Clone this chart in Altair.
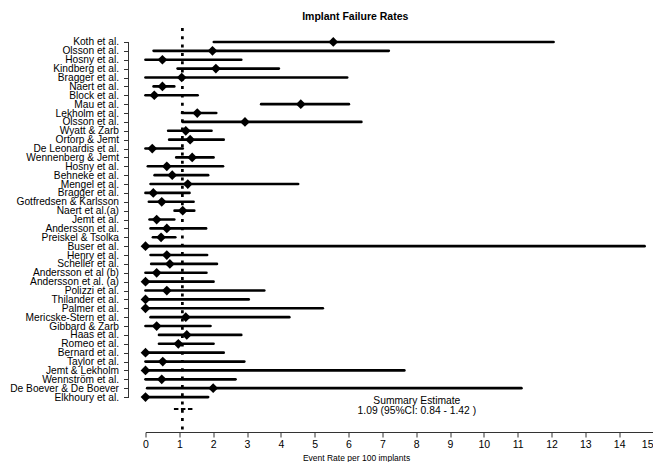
import json
import altair as alt
import pandas as pd

FONT = "Liberation Sans"

studies = ["Koth et al.", "Olsson et al.", "Hosny et al.", "Kindberg et al.", "Bragger et al.",
           "Naert et al.", "Block et al.", "Mau et al.", "Lekholm et al.", "Olsson et al.",
           "Wyatt & Zarb", "Ortorp & Jemt", "De Leonardis et al.", "Wennenberg & Jemt", "Hosny et al.",
           "Behneke et al.", "Mengel et al.", "Bragger et al.", "Gotfredsen & Karlsson", "Naert et al.(a)",
           "Jemt et al.", "Andersson et al.", "Preiskel & Tsolka", "Buser et al.", "Henry et al.",
           "Scheller et al.", "Andersson et al (b)", "Andersson et al. (a)", "Polizzi et al.", "Thilander et al.",
           "Palmer et al.", "Mericske-Stern et al.", "Gibbard & Zarb", "Haas et al.", "Romeo et al.",
           "Bernard et al.", "Taylor et al.", "Jemt & Lekholm", "Wennström et al.", "De Boever & De Boever",
           "Elkhoury et al."]
rate = [5.55, 1.98, 0.50, 2.08, 1.07, 0.50, 0.26, 4.59, 1.53, 2.94,
        1.19, 1.32, 0.20, 1.38, 0.63, 0.79, 1.25, 0.23, 0.48, 1.10,
        0.33, 0.63, 0.46, 0.00, 0.63, 0.72, 0.33, 0.00, 0.63, 0.00,
        0.00, 1.19, 0.33, 1.22, 0.97, 0.00, 0.51, 0.00, 0.48, 2.00,
        0.00]
lower = [2.02, 0.24, 0.00, 0.95, 0.00, 0.24, 0.00, 3.42, 1.08, 1.10,
         0.67, 0.70, 0.00, 0.91, 0.07, 0.27, 0.15, 0.00, 0.10, 0.86,
         0.12, 0.15, 0.22, 0.00, 0.15, 0.17, 0.00, 0.00, 0.00, 0.00,
         0.00, 0.15, 0.00, 0.40, 0.40, 0.00, 0.00, 0.00, 0.00, 0.05,
         0.00]
upper = [12.06, 7.19, 2.83, 3.94, 5.96, 0.85, 1.54, 6.01, 2.09, 6.38,
         1.95, 2.31, 1.10, 2.01, 2.29, 1.85, 4.51, 1.30, 1.42, 1.44,
         0.85, 1.79, 0.88, 14.75, 1.82, 2.11, 1.80, 2.01, 3.51, 3.05,
         5.24, 4.25, 1.92, 2.83, 2.01, 2.31, 2.92, 7.65, 2.66, 11.11,
         1.85]

summary_est = 1.09
summary_lo = 0.84
summary_hi = 1.42
x_ticks = list(range(0, 16))

rows = list(range(1, len(studies) + 1))
df = pd.DataFrame({"row": rows, "study": studies, "rate": rate, "lower": lower, "upper": upper})
summ = pd.DataFrame({"row": [len(studies) + 1.35], "lo": [summary_lo], "hi": [summary_hi], "est": [summary_est]})
stext = pd.DataFrame({
    "row": [len(studies) + 0.83],
    "x": [8.02],
    "text": [f"Summary Estimate\n{summary_est:.2f} (95%CI: {summary_lo:.2f} - {summary_hi:.2f} )"],
})
yax = pd.DataFrame({"a": [rows[0]], "b": [rows[-1]]})

xscale = alt.Scale(domain=[x_ticks[0], x_ticks[-1]], nice=False, zero=False)
yscale = alt.Scale(domain=[-0.577, 44.94], reverse=True, nice=False, zero=False)

names = json.dumps(studies, ensure_ascii=False)

xaxis = alt.Axis(values=x_ticks, format="d", grid=False, labelFont=FONT, labelFontSize=10.5,
                 labelColor="black", tickColor="#333", domainColor="#333", tickSize=5,
                 labelPadding=2, labelFlush=False, labelOverlap=False,
                 labelAlign={"condition": {"test": f"datum.value == {x_ticks[-1]}", "value": "right"},
                             "value": "center"},
                 title="Event Rate per 100 implants", titleFont=FONT, titleFontSize=8.5,
                 titleFontWeight="normal", titleColor="black", titleX=210.5, titleY=28,
                 titleBaseline="alphabetic", titleAlign="center")
yaxis = alt.Axis(values=rows, labelExpr=f"{names}[datum.value - 1]", grid=False, domain=False,
                 offset=17, tickSize=5, tickColor="#333", labelFont=FONT, labelFontSize=10.2,
                 labelColor="black", labelPadding=5, labelOverlap=False, title=None)


def X(field):
    return alt.X(field, type="quantitative", scale=xscale, axis=xaxis)


def Y(field):
    return alt.Y(field, type="quantitative", scale=yscale, axis=yaxis)


yline = alt.Chart(yax).mark_rule(color="#333", strokeWidth=1).encode(
    x=alt.value(-17), y=Y("a"), y2="b:Q"
)
bars = alt.Chart(df).mark_rule(strokeWidth=2.7, strokeCap="round", color="black").encode(
    x=X("lower"), x2="upper:Q", y=Y("row")
)
points = alt.Chart(df).mark_point(shape="diamond", filled=True, size=95, color="black", opacity=1).encode(
    x=X("rate"), y=Y("row")
)
vline = alt.Chart(summ).mark_rule(strokeDash=[3, 5.3], strokeWidth=2.7, color="black").encode(
    x=X("est")
)
hline = alt.Chart(summ).mark_rule(strokeDash=[4.5, 2.5], strokeWidth=2, color="black").encode(
    x=X("lo"), x2="hi:Q", y=Y("row")
)
sumtext = alt.Chart(stext).mark_text(font=FONT, fontSize=10.3, lineHeight=10, lineBreak="\n",
                                     baseline="alphabetic", align="center", color="black").encode(
    x=X("x"), y=Y("row"), text="text:N"
)

chart = alt.layer(bars, yline, vline, hline, points, sumtext).properties(
    width=507.5,
    height=404,
    autosize=alt.AutoSizeParams(type="none"),
    padding={"left": 137.5, "top": 20, "right": 0, "bottom": 30},
    title=alt.TitleParams("Implant Failure Rates", font=FONT, fontSize=10.5, fontWeight="bold",
                          anchor="middle", frame="group", dx=-44, offset=4, color="black"),
).configure_view(stroke=None)

chart.save("out.html", embed_options={"renderer": "svg", "actions": False})
